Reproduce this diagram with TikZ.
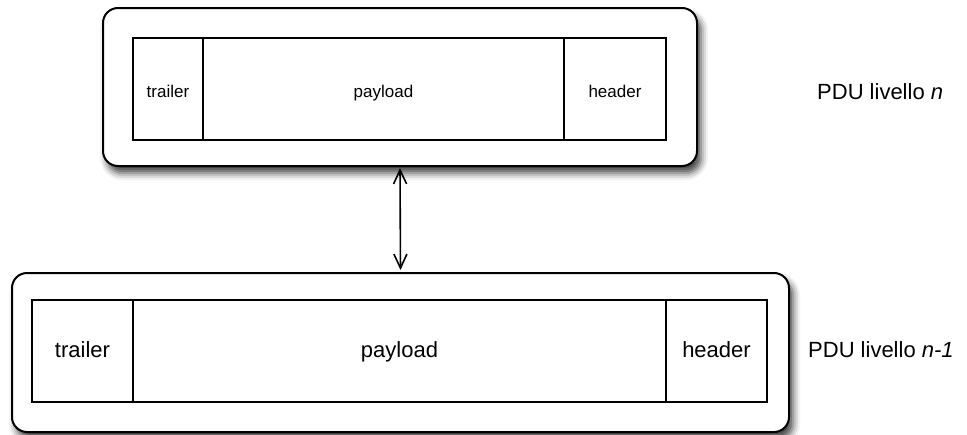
\documentclass[tikz,border=0pt]{standalone}
\usepackage{fontspec}
\setmainfont{Liberation Sans}
\usetikzlibrary{arrows.meta,shadows.blur}

\tikzset{
  pdu/.style={draw, line width=2pt, rounded corners=15pt, fill=white,
    inner sep=0pt, outer sep=0pt,
    blur shadow={shadow xshift=4pt, shadow yshift=-7pt, shadow blur radius=7pt, shadow opacity=75}},
  field/.style={draw, line width=1.3pt, inner sep=0pt, outer sep=0pt, minimum height=102pt},
  smalltxt/.style={font=\fontsize{17}{20}\selectfont, text height=16pt, text depth=0pt},
  bigtxt/.style={font=\fontsize{22}{26}\selectfont, text height=16pt, text depth=4pt},
}

\begin{document}
\begin{tikzpicture}[x=1pt,y=-1pt]
    \useasboundingbox (0,0) rectangle (967,434);

    % PDU livello n
    \node[pdu, minimum width=594pt, minimum height=158pt] (pduN) at (400,87) {};
    \node[field, smalltxt, minimum width=70pt] (trN) at (168,89) {trailer};
    \node[field, smalltxt, minimum width=361pt] (plN) at (383.5,89) {payload};
    \node[field, smalltxt, minimum width=102pt] (hdN) at (615,89) {header};
    \node[font=\fontsize{22}{26}\selectfont, anchor=base west, inner sep=0pt] (lblN) at (817,99) {PDU livello \textit{n}};

    % PDU livello n-1
    \node[pdu, minimum width=777pt, minimum height=159pt] (pduM) at (400.5,352.5) {};
    \node[field, bigtxt, minimum width=101pt] (trM) at (82.5,351) {trailer};
    \node[field, bigtxt, minimum width=533pt] (plM) at (399.5,351) {payload};
    \node[field, bigtxt, minimum width=101pt] (hdM) at (716.5,351) {header};
    \node[font=\fontsize{22}{26}\selectfont, anchor=base west, inner sep=0pt] (lblM) at (808,357) {PDU livello \textit{n-1}};

    % encapsulation
    \draw[line width=1.6pt, {Straight Barb[length=14pt,width=13pt]}-{Straight Barb[length=14pt,width=13pt]},
      shorten <=2pt, shorten >=3pt] (pduN.south) -- (pduM.north);
\end{tikzpicture}
\end{document}
